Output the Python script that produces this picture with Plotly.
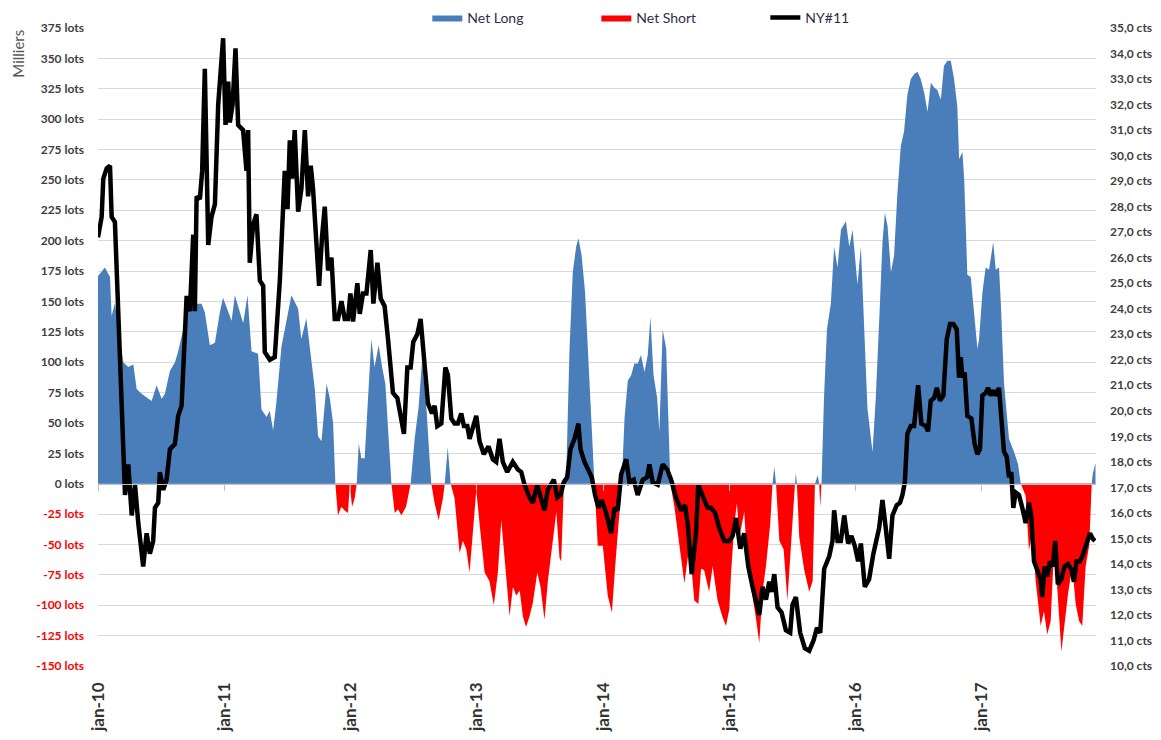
import numpy as np
import pandas as pd
import plotly.graph_objects as go

# ---- Data (decimal years) ----
net_t = [2010.000, 2010.055, 2010.095, 2010.108, 2010.134, 2010.174, 2010.200, 2010.240, 2010.280, 2010.306,
         2010.345, 2010.400, 2010.425, 2010.464, 2010.504, 2010.530, 2010.570, 2010.610, 2010.635, 2010.675,
         2010.714, 2010.767, 2010.820, 2010.846, 2010.886, 2010.926, 2010.965, 2010.990, 2011.030, 2011.058,
         2011.084, 2011.123, 2011.150, 2011.184, 2011.216, 2011.268, 2011.295, 2011.335, 2011.360, 2011.387,
         2011.413, 2011.453, 2011.493, 2011.532, 2011.585, 2011.610, 2011.650, 2011.677, 2011.717, 2011.743,
         2011.770, 2011.810, 2011.835, 2011.862, 2011.880, 2011.900, 2011.928, 2011.954, 2011.980, 2011.994,
         2012.012, 2012.033, 2012.049, 2012.065, 2012.086, 2012.112, 2012.138, 2012.165, 2012.190, 2012.223,
         2012.250, 2012.276, 2012.302, 2012.324, 2012.350, 2012.376, 2012.403, 2012.440, 2012.476, 2012.508,
         2012.540, 2012.566, 2012.600, 2012.627, 2012.640, 2012.666, 2012.698, 2012.732, 2012.746, 2012.770,
         2012.793, 2012.824, 2012.864, 2012.890, 2012.917, 2012.943, 2012.970, 2012.996, 2013.022, 2013.062,
         2013.100, 2013.135, 2013.167, 2013.194, 2013.220, 2013.260, 2013.286, 2013.312, 2013.340, 2013.365,
         2013.390, 2013.418, 2013.444, 2013.479, 2013.505, 2013.536, 2013.563, 2013.600, 2013.630, 2013.655,
         2013.668, 2013.690, 2013.708, 2013.734, 2013.760, 2013.787, 2013.805, 2013.830, 2013.858, 2013.884,
         2013.910, 2013.932, 2013.958, 2013.998, 2014.037, 2014.070, 2014.096, 2014.122, 2014.148, 2014.170,
         2014.196, 2014.222, 2014.248, 2014.275, 2014.300, 2014.328, 2014.354, 2014.375, 2014.400, 2014.428,
         2014.446, 2014.472, 2014.500, 2014.517, 2014.533, 2014.565, 2014.604, 2014.644, 2014.684, 2014.723,
         2014.755, 2014.776, 2014.800, 2014.840, 2014.868, 2014.907, 2014.947, 2014.974, 2015.000, 2015.013,
         2015.040, 2015.060, 2015.080, 2015.118, 2015.145, 2015.184, 2015.210, 2015.237, 2015.263, 2015.290,
         2015.324, 2015.342, 2015.356, 2015.370, 2015.396, 2015.430, 2015.460, 2015.500, 2015.520, 2015.527,
         2015.535, 2015.554, 2015.593, 2015.633, 2015.660, 2015.678, 2015.700, 2015.712, 2015.720, 2015.730,
         2015.750, 2015.773, 2015.804, 2015.830, 2015.857, 2015.884, 2015.923, 2015.950, 2015.976, 2016.015,
         2016.042, 2016.068, 2016.094, 2016.134, 2016.160, 2016.187, 2016.213, 2016.232, 2016.253, 2016.280,
         2016.305, 2016.330, 2016.358, 2016.384, 2016.410, 2016.437, 2016.463, 2016.490, 2016.516, 2016.543,
         2016.570, 2016.596, 2016.622, 2016.648, 2016.675, 2016.700, 2016.727, 2016.754, 2016.780, 2016.806,
         2016.820, 2016.846, 2016.860, 2016.872, 2016.885, 2016.912, 2016.938, 2016.965, 2016.978, 2017.004,
         2017.030, 2017.057, 2017.090, 2017.110, 2017.136, 2017.150, 2017.176, 2017.215, 2017.255, 2017.287,
         2017.308, 2017.347, 2017.373, 2017.400, 2017.426, 2017.466, 2017.492, 2017.518, 2017.545, 2017.571,
         2017.598, 2017.630, 2017.656, 2017.682, 2017.716, 2017.743, 2017.770, 2017.795, 2017.822, 2017.850,
         2017.870, 2017.878, 2017.900]
net_k = [171, 178, 170, 138, 149, 119, 100, 96, 98, 78,
         74, 70, 68, 81, 70, 74, 93, 100, 109, 127,
         144, 148, 148, 141, 114, 116, 141, 153, 141, 134,
         155, 141, 132, 155, 109, 107, 61, 55, 60, 44,
         67, 113, 134, 155, 144, 119, 136, 113, 78, 39,
         35, 82, 71, 50, 0, -26, -19, -22, -24, 0,
         -19, -12, 0, 33, 21, 21, 71, 119, 96, 114,
         96, 82, 37, 0, -24, -21, -26, -19, 0, 37,
         64, 101, 64, 19, 0, -16, -30, -12, 0, 30,
         0, -12, -57, -47, -54, -73, -40, -5, -33, -73,
         -80, -100, -73, -30, -61, -109, -85, -92, -88, -109,
         -118, -109, -98, -73, -85, -112, -80, -51, -23, -61,
         -64, 0, 5, 110, 174, 195, 202, 188, 157, 98,
         50, 0, -51, -51, -92, -106, -68, -33, 0, 54,
         85, 89, 99, 99, 106, 92, 106, 137, 89, 71,
         43, 127, 111, 54, 0, -19, -51, -82, -51, -96,
         -99, -70, -71, -89, -68, -96, -110, -117, -103, -75,
         -33, -16, -44, -23, -68, -92, -110, -131, -89, -68,
         -33, 0, 14, 0, -47, -54, -96, -30, 0, 9,
         0, -44, -71, -89, -80, 0, 7, 0, -19, 0,
         71, 127, 148, 195, 178, 209, 216, 195, 209, 164,
         195, 127, 62, 26, 71, 134, 199, 223, 212, 174,
         188, 237, 278, 290, 320, 333, 337, 339, 333, 322,
         306, 330, 326, 324, 316, 344, 348, 348, 333, 310,
         267, 273, 251, 214, 172, 170, 138, 111, 119, 157,
         178, 176, 199, 176, 178, 149, 82, 37, 26, 16,
         0, -10, -55, -40, -80, -117, -105, -124, -113, -55,
         -87, -138, -113, -91, -68, -99, -113, -117, -68, -51,
         0, 8, 17]

price_t = [2010.000, 2010.029, 2010.042, 2010.069, 2010.095, 2010.108, 2010.134, 2010.161, 2010.187, 2010.214,
           2010.240, 2010.267, 2010.293, 2010.319, 2010.358, 2010.385, 2010.411, 2010.437, 2010.451, 2010.477,
           2010.490, 2010.517, 2010.543, 2010.570, 2010.609, 2010.635, 2010.662, 2010.688, 2010.702, 2010.728,
           2010.754, 2010.767, 2010.781, 2010.807, 2010.825, 2010.846, 2010.873, 2010.899, 2010.926, 2010.952,
           2010.991, 2011.010, 2011.031, 2011.044, 2011.066, 2011.089, 2011.110, 2011.149, 2011.176, 2011.189,
           2011.202, 2011.229, 2011.255, 2011.282, 2011.308, 2011.321, 2011.361, 2011.400, 2011.440, 2011.479,
           2011.501, 2011.519, 2011.537, 2011.558, 2011.585, 2011.611, 2011.638, 2011.664, 2011.685, 2011.703,
           2011.730, 2011.751, 2011.774, 2011.796, 2011.822, 2011.849, 2011.875, 2011.901, 2011.928, 2011.954,
           2011.980, 2011.999, 2012.020, 2012.054, 2012.073, 2012.099, 2012.126, 2012.160, 2012.181, 2012.213,
           2012.239, 2012.270, 2012.297, 2012.336, 2012.371, 2012.397, 2012.423, 2012.450, 2012.476, 2012.497,
           2012.529, 2012.555, 2012.581, 2012.613, 2012.645, 2012.666, 2012.687, 2012.719, 2012.751, 2012.771,
           2012.798, 2012.824, 2012.850, 2012.877, 2012.898, 2012.925, 2012.943, 2012.969, 2012.996, 2013.022,
           2013.056, 2013.093, 2013.127, 2013.154, 2013.180, 2013.206, 2013.241, 2013.285, 2013.325, 2013.352,
           2013.378, 2013.418, 2013.444, 2013.478, 2013.505, 2013.536, 2013.562, 2013.584, 2013.610, 2013.637,
           2013.663, 2013.689, 2013.716, 2013.742, 2013.774, 2013.805, 2013.821, 2013.853, 2013.884, 2013.910,
           2013.937, 2013.963, 2013.990, 2014.024, 2014.064, 2014.090, 2014.116, 2014.143, 2014.183, 2014.209,
           2014.243, 2014.274, 2014.314, 2014.349, 2014.367, 2014.393, 2014.433, 2014.472, 2014.507, 2014.539,
           2014.578, 2014.618, 2014.649, 2014.670, 2014.702, 2014.736, 2014.754, 2014.789, 2014.828, 2014.855,
           2014.887, 2014.921, 2014.960, 2015.000, 2015.026, 2015.053, 2015.087, 2015.118, 2015.150, 2015.184,
           2015.211, 2015.237, 2015.263, 2015.290, 2015.316, 2015.334, 2015.356, 2015.382, 2015.414, 2015.448,
           2015.482, 2015.500, 2015.527, 2015.561, 2015.598, 2015.633, 2015.667, 2015.694, 2015.720, 2015.751,
           2015.791, 2015.817, 2015.830, 2015.857, 2015.883, 2015.910, 2015.941, 2015.967, 2015.994, 2016.020,
           2016.042, 2016.073, 2016.107, 2016.141, 2016.186, 2016.213, 2016.239, 2016.266, 2016.292, 2016.326,
           2016.352, 2016.371, 2016.390, 2016.410, 2016.437, 2016.463, 2016.495, 2016.521, 2016.556, 2016.574,
           2016.595, 2016.622, 2016.643, 2016.669, 2016.695, 2016.722, 2016.748, 2016.774, 2016.801, 2016.819,
           2016.833, 2016.845, 2016.864, 2016.885, 2016.917, 2016.943, 2016.964, 2016.985, 2017.004, 2017.031,
           2017.049, 2017.070, 2017.091, 2017.110, 2017.136, 2017.154, 2017.175, 2017.197, 2017.215, 2017.233,
           2017.249, 2017.268, 2017.294, 2017.320, 2017.347, 2017.373, 2017.391, 2017.413, 2017.439, 2017.466,
           2017.478, 2017.497, 2017.518, 2017.539, 2017.561, 2017.581, 2017.602, 2017.629, 2017.655, 2017.682,
           2017.708, 2017.729, 2017.750, 2017.777, 2017.803, 2017.829, 2017.856, 2017.877, 2017.895]
price_cts = [26.8, 27.6, 29.1, 29.5, 29.6, 27.6, 27.4, 23.8, 20.5, 16.7,
             17.9, 15.9, 17.1, 15.6, 13.9, 15.2, 14.4, 14.9, 16.2, 16.4,
             17.6, 16.9, 17.3, 18.5, 18.7, 19.8, 20.2, 22.8, 24.5, 23.9,
             26.9, 23.9, 28.4, 28.3, 29.4, 33.4, 26.5, 27.6, 28.1, 32.0,
             34.6, 31.2, 32.9, 31.3, 32.0, 34.2, 31.2, 31.0, 29.4, 31.0,
             25.8, 27.3, 27.7, 25.1, 24.9, 22.3, 22.0, 22.1, 25.1, 29.4,
             27.9, 30.6, 29.1, 31.0, 27.8, 28.7, 31.0, 28.4, 29.6, 28.7,
             26.5, 24.9, 26.8, 28.0, 25.5, 26.0, 23.6, 23.6, 24.3, 23.6,
             23.6, 24.6, 23.5, 25.0, 23.8, 24.6, 24.6, 26.3, 24.2, 25.8,
             24.4, 24.1, 22.8, 20.7, 20.5, 19.7, 19.1, 21.7, 21.7, 22.7,
             23.0, 23.6, 22.3, 20.3, 19.9, 20.2, 19.4, 19.5, 21.7, 21.4,
             19.7, 19.5, 19.5, 19.9, 19.4, 19.4, 18.9, 19.4, 19.8, 18.8,
             18.3, 18.6, 18.1, 18.0, 18.9, 18.0, 17.6, 18.0, 17.7, 17.6,
             17.1, 16.6, 16.4, 17.1, 16.6, 16.1, 16.9, 17.1, 17.3, 16.6,
             16.7, 17.2, 17.4, 18.5, 18.9, 19.5, 18.5, 18.0, 17.7, 17.4,
             16.7, 16.2, 16.5, 16.0, 15.2, 16.2, 16.1, 17.5, 18.1, 17.2,
             17.3, 16.7, 17.3, 17.4, 17.9, 17.2, 17.1, 17.9, 17.7, 17.3,
             16.6, 16.1, 16.3, 15.6, 13.6, 15.2, 17.1, 16.7, 16.2, 16.2,
             16.0, 15.4, 14.9, 14.9, 15.1, 15.8, 14.6, 15.2, 13.9, 13.1,
             12.6, 12.0, 13.1, 12.6, 13.3, 12.9, 13.6, 12.3, 12.1, 11.4,
             11.3, 12.4, 12.7, 11.3, 10.7, 10.6, 11.0, 11.5, 11.3, 13.8,
             14.3, 14.9, 16.1, 14.9, 14.9, 15.9, 14.8, 15.1, 14.7, 14.1,
             14.8, 13.1, 13.4, 14.4, 15.4, 16.5, 15.4, 14.2, 15.9, 16.3,
             16.4, 16.7, 17.2, 19.1, 19.4, 19.4, 21.0, 19.5, 19.4, 19.2,
             20.4, 20.5, 20.9, 20.4, 20.6, 22.8, 23.4, 23.4, 23.2, 21.3,
             22.1, 21.3, 21.5, 19.8, 19.7, 18.7, 18.3, 18.5, 20.6, 20.7,
             20.9, 20.6, 20.8, 20.6, 20.9, 19.5, 18.4, 18.2, 17.4, 17.6,
             16.2, 16.8, 16.7, 16.2, 15.6, 16.4, 15.9, 14.1, 13.8, 13.4,
             12.7, 13.9, 13.5, 14.1, 13.9, 14.9, 13.2, 13.4, 13.9, 14.0,
             13.8, 13.3, 14.1, 14.1, 14.4, 14.8, 15.2, 15.0, 14.9]

left_ticks = list(range(-150, 376, 25))
right_ticks = list(range(10, 36))
year_ticks = ["2010-01-01", "2011-01-01", "2012-01-01", "2013-01-01",
              "2014-01-01", "2015-01-01", "2016-01-01", "2017-01-01"]
year_labels = ["jan-10", "jan-11", "jan-12", "jan-13", "jan-14", "jan-15", "jan-16", "jan-17"]


def to_date(t):
    t = np.asarray(t, dtype=float)
    return pd.Timestamp("2010-01-01") + pd.to_timedelta((t - 2010.0) * 365.25, unit="D")


net_dates = to_date(net_t)
price_dates = to_date(price_t)
net_long = [max(v, 0) for v in net_k]
net_short = [min(v, 0) for v in net_k]

BLUE = "#4A7EBB"
RED = "#FF0000"
FONT = "Lato"

fig = go.Figure()
fig.add_trace(go.Scatter(x=net_dates, y=net_long, name="Net Long", mode="lines",
                         line=dict(width=0, color=BLUE), fill="tozeroy", fillcolor=BLUE,
                         yaxis="y", hoverinfo="skip"))
fig.add_trace(go.Scatter(x=net_dates, y=net_short, name="Net Short", mode="lines",
                         line=dict(width=0, color=RED), fill="tozeroy", fillcolor=RED,
                         yaxis="y", hoverinfo="skip"))
fig.add_trace(go.Scatter(x=price_dates, y=price_cts, name="NY#11", mode="lines",
                         line=dict(width=4.5, color="black"), yaxis="y2"))
# invisible trace to carry the zero-line x axis with year ticks
fig.add_trace(go.Scatter(x=[net_dates[0], net_dates[-1]], y=[0, 0], xaxis="x2", yaxis="y",
                         mode="lines", line=dict(width=0), showlegend=False, hoverinfo="skip"))

left_text = [(f'<span style="color:#FF0000">{v} lots</span>' if v < 0 else f"{v} lots") for v in left_ticks]
right_text = [f"{v},0 cts" for v in right_ticks]

x_range = [to_date([2010.0])[0], to_date([2017.904])[0]]

fig.update_layout(
    width=1161, height=740,
    paper_bgcolor="white", plot_bgcolor="white",
    margin=dict(l=98, r=65, t=28, b=74, autoexpand=False),
    font=dict(family=FONT, color="#404040"),
    showlegend=True,
    legend=dict(orientation="h", x=0.330, xanchor="left", y=1.016, yanchor="middle",
                entrywidth=124, entrywidthmode="pixels",
                font=dict(family=FONT, size=14, color="#2E2E4A"), bgcolor="rgba(0,0,0,0)"),
    xaxis=dict(type="date", range=x_range, tickvals=year_ticks, ticktext=year_labels,
               tickangle=-90, ticks="", showgrid=False, showline=False, zeroline=False,
               tickfont=dict(family=FONT, size=17, color="#333333", weight="bold"),
               ticklabelstandoff=12, automargin=False),
    xaxis2=dict(type="date", matches="x", overlaying="x", anchor="free", position=150 / 525,
                tickvals=year_ticks, showticklabels=False, ticks="outside", ticklen=6,
                tickcolor="#BFBFBF", showline=True, linecolor="#BFBFBF", linewidth=1,
                showgrid=False, zeroline=False, automargin=False),
    yaxis=dict(range=[-150, 375], tickvals=left_ticks, ticktext=left_text,
               showgrid=True, gridcolor="#D9D9D9", gridwidth=1, zeroline=False,
               showline=False, ticks="", automargin=False,
               tickfont=dict(family=FONT, size=12, color="#404040", weight="bold"),
               ticklabelstandoff=13),
    yaxis2=dict(range=[10, 35], tickvals=right_ticks, ticktext=right_text,
                overlaying="y", side="right", showgrid=False, zeroline=False,
                showline=False, ticks="", automargin=False,
                tickfont=dict(family=FONT, size=12, color="#404040", weight="bold"),
                ticklabelstandoff=13),
    annotations=[dict(text="Milliers", xref="paper", yref="paper", x=-0.081, y=0.96,
                      xanchor="center", yanchor="middle", textangle=-90, showarrow=False,
                      font=dict(family=FONT, size=15, color="#595959"))],
)

fig.write_html("out.html", config={"displayModeBar": False},
               post_script="document.body.style.margin='0';")
